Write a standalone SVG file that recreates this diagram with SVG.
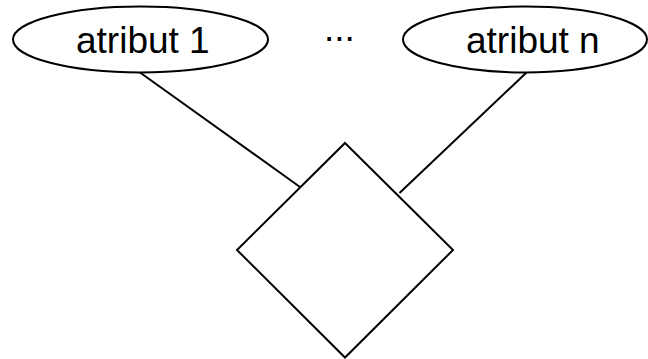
<svg xmlns="http://www.w3.org/2000/svg" width="648" height="359" viewBox="0 0 648 359">
  <style>
    .shape { fill: #ffffff; stroke: #000000; stroke-width: 2; }
    .edge { fill: none; stroke: #000000; stroke-width: 2; }
    .label { font-family: "Liberation Sans", Arial, sans-serif; font-size: 37px; fill: #000000; }
  </style>
  <rect width="648" height="359" fill="#ffffff"/>

  <!-- connectors from attributes to the relationship -->
  <g id="connectors">
    <line class="edge" x1="140" y1="72.5" x2="300" y2="187"/>
    <line class="edge" x1="526.5" y1="72.5" x2="399.5" y2="193"/>
  </g>

  <!-- attribute 1 -->
  <g id="attr1">
    <ellipse class="shape" cx="140.5" cy="39.5" rx="127.5" ry="33"/>
    <text class="label" x="76" y="52.5">atribut 1</text>
  </g>

  <!-- ellipsis between attributes -->
  <g id="dots">
    <text class="label" x="324" y="40.5">...</text>
  </g>

  <!-- attribute n -->
  <g id="attrN">
    <ellipse class="shape" cx="525" cy="39.5" rx="122" ry="33"/>
    <text class="label" x="466" y="52.5">atribut n</text>
  </g>

  <!-- relationship diamond -->
  <g id="relationship">
    <polygon class="shape" points="345,143 453,250 345,357.5 237,250"/>
  </g>
</svg>
